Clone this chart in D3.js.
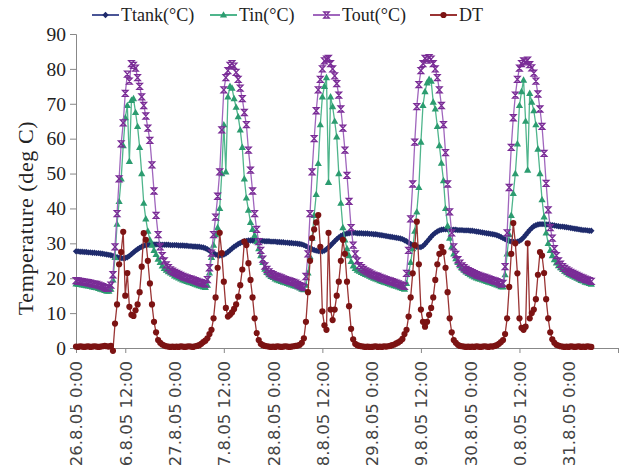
<!DOCTYPE html>
<html>
<head>
<meta charset="utf-8">
<script src="https://cdn.jsdelivr.net/npm/d3@7"></script>
<style>
  body { margin: 0; background: #fff; }
  svg { display: block; }
</style>
</head>
<body>
<div id="chart"></div>
<script>
// half-hourly readings, 26.8.05 0:00 -> 31.8.05 5:30 (one row = 6 hours)
const ttank = [
  27.7, 27.7, 27.6, 27.6, 27.5, 27.5, 27.4, 27.4, 27.3, 27.3, 27.2, 27.2,
  27.1, 27.0, 26.9, 26.8, 26.7, 26.6, 26.4, 26.2, 26.0, 25.9, 25.8, 25.7,
  25.8, 26.0, 26.4, 26.9, 27.4, 27.9, 28.3, 28.7, 29.0, 29.3, 29.5, 29.6,
  29.7, 29.7, 29.7, 29.7, 29.7, 29.6, 29.6, 29.6, 29.6, 29.6, 29.5, 29.5,
  29.5, 29.5, 29.4, 29.4, 29.4, 29.3, 29.3, 29.2, 29.2, 29.1, 29.1, 29.0,
  29.0, 28.9, 28.8, 28.6, 28.3, 27.9, 27.5, 27.1, 26.8, 26.6, 26.5, 26.6,
  26.8, 27.1, 27.5, 28.0, 28.5, 29.0, 29.4, 29.8, 30.1, 30.4, 30.6, 30.7,
  30.8, 30.8, 30.8, 30.8, 30.7, 30.7, 30.7, 30.7, 30.6, 30.6, 30.6, 30.5,
  30.5, 30.5, 30.4, 30.4, 30.3, 30.3, 30.2, 30.2, 30.1, 30.1, 30.0, 30.0,
  29.9, 29.8, 29.7, 29.5, 29.2, 28.9, 28.6, 28.3, 28.1, 27.9, 27.8, 27.7,
  27.7, 27.9, 28.3, 28.8, 29.4, 30.0, 30.6, 31.2, 31.7, 32.1, 32.4, 32.6,
  32.8, 32.9, 33.0, 33.0, 33.0, 32.9, 32.9, 32.9, 32.8, 32.8, 32.8, 32.7,
  32.7, 32.6, 32.6, 32.5, 32.4, 32.3, 32.2, 32.1, 32.0, 31.9, 31.8, 31.7,
  31.6, 31.5, 31.4, 31.2, 30.9, 30.6, 30.2, 29.8, 29.5, 29.2, 29.0, 28.9,
  28.9, 29.2, 29.8, 30.5, 31.2, 31.9, 32.5, 33.0, 33.4, 33.7, 33.9, 34.0,
  34.0, 34.0, 34.0, 33.9, 33.9, 33.9, 33.8, 33.8, 33.8, 33.7, 33.7, 33.7,
  33.6, 33.6, 33.5, 33.4, 33.3, 33.2, 33.1, 33.0, 32.9, 32.8, 32.7, 32.6,
  32.5, 32.3, 32.1, 31.8, 31.5, 31.2, 30.9, 30.7, 30.5, 30.4, 30.4, 30.5,
  30.7, 31.1, 31.7, 32.4, 33.1, 33.8, 34.4, 34.9, 35.2, 35.4, 35.5, 35.5,
  35.5, 35.4, 35.4, 35.3, 35.2, 35.1, 35.0, 34.9, 34.8, 34.8, 34.7, 34.6,
  34.5, 34.4, 34.3, 34.2, 34.1, 34.0, 33.9, 33.8, 33.8, 33.7, 33.6, 33.6
];

const tin = [
  18.4, 18.3, 18.2, 18.1, 18.0, 17.9, 17.8, 17.7, 17.5, 17.4, 17.3, 17.1,
  16.9, 16.7, 16.5, 16.3, 16.3, 16.9, 19.5, 26.0, 35.5, 42.0, 48.5, 58.0,
  66.0, 69.5, 53.5, 71.0, 71.5, 67.5, 63.5, 57.5, 50.0, 41.5, 37.0, 33.5,
  31.0, 29.5, 28.0, 26.8, 25.5, 24.5, 23.5, 22.8, 22.3, 21.9, 21.5, 21.2,
  20.7, 20.4, 20.1, 19.8, 19.5, 19.3, 19.1, 18.9, 18.7, 18.5, 18.3, 18.1,
  17.9, 17.7, 17.5, 17.4, 18.0, 21.5, 26.0, 29.5, 32.5, 34.5, 40.0, 50.0,
  64.0, 50.5, 72.0, 75.0, 74.5, 71.5, 69.0, 66.3, 62.5, 57.5, 48.5, 43.0,
  39.5, 36.0, 34.0, 32.3, 30.5, 28.5, 26.5, 24.5, 22.6, 21.7, 21.0, 20.5,
  20.2, 19.8, 19.5, 19.3, 19.1, 18.9, 18.7, 18.5, 18.3, 18.1, 17.9, 17.7,
  17.5, 17.2, 16.9, 16.7, 18.0, 21.5, 26.2, 31.5, 38.0, 44.0, 52.9, 64.0,
  72.0, 75.0, 77.5, 47.5, 72.0, 69.2, 65.0, 60.5, 50.0, 41.5, 34.5, 31.0,
  28.5, 26.5, 24.8, 23.5, 22.8, 22.3, 22.0, 21.7, 21.4, 21.1, 20.9, 20.6,
  20.3, 20.0, 19.8, 19.6, 19.3, 19.1, 18.9, 18.7, 18.5, 18.3, 18.1, 17.9,
  17.7, 17.5, 17.3, 17.1, 16.9, 18.5, 21.5, 24.5, 28.5, 33.5, 39.0, 46.0,
  59.0, 69.5, 73.5, 76.0, 77.0, 76.5, 70.5, 68.5, 63.5, 58.0, 53.0, 48.0,
  40.0, 35.0, 31.5, 29.0, 27.0, 25.6, 24.5, 23.6, 22.9, 22.3, 21.8, 21.4,
  21.0, 20.7, 20.4, 20.1, 19.9, 19.7, 19.5, 19.3, 19.1, 18.9, 18.7, 18.5,
  18.3, 18.1, 17.9, 17.6, 17.5, 21.0, 27.0, 32.5, 38.0, 44.3, 50.0, 58.5,
  69.5, 73.5, 76.8, 65.0, 51.0, 73.0, 70.5, 68.0, 64.0, 57.0, 50.0, 42.5,
  37.6, 33.0, 30.0, 28.0, 26.5, 25.3, 24.4, 23.6, 23.0, 22.5, 22.0, 21.6,
  21.2, 20.9, 20.6, 20.3, 20.0, 19.7, 19.4, 19.2, 18.9, 18.7, 18.5, 18.3
];

const tout = [
  19.3, 19.2, 19.1, 19.0, 18.9, 18.8, 18.7, 18.6, 18.4, 18.3, 18.2, 18.0,
  17.8, 17.6, 17.3, 17.1, 17.2, 18.0, 21.0, 29.0, 38.5, 48.5, 58.5, 64.5,
  73.0, 78.5, 76.5, 81.5, 81.0, 80.2, 77.5, 75.0, 72.0, 69.5, 66.5, 63.0,
  59.5, 52.5, 45.0, 38.0, 32.5, 29.0, 26.5, 25.0, 23.8, 23.0, 22.4, 22.0,
  21.7, 21.4, 21.1, 20.8, 20.5, 20.3, 20.1, 19.9, 19.7, 19.5, 19.3, 19.1,
  18.9, 18.7, 18.5, 18.3, 19.6, 23.0, 27.2, 32.5, 37.5, 43.5, 50.5, 62.5,
  74.0, 77.5, 79.5, 81.0, 81.5, 80.8, 79.0, 77.0, 74.5, 71.5, 67.5, 64.0,
  56.7, 51.0, 45.0, 38.5, 34.0, 30.5, 28.0, 25.5, 23.5, 22.5, 21.8, 21.3,
  21.0, 20.7, 20.5, 20.3, 20.1, 19.8, 19.6, 19.4, 19.2, 19.0, 18.8, 18.6,
  18.2, 17.9, 17.6, 17.3, 20.5, 27.0, 38.5, 50.5, 60.0, 68.0, 74.0, 77.0,
  80.0, 82.3, 82.8, 83.0, 81.5, 80.0, 78.0, 75.8, 72.5, 68.5, 63.0, 56.7,
  49.5, 42.0, 34.5, 29.5, 27.0, 25.0, 23.6, 23.0, 22.5, 22.1, 21.8, 21.5,
  21.2, 20.9, 20.7, 20.5, 20.2, 20.0, 19.8, 19.6, 19.4, 19.2, 19.0, 18.8,
  18.6, 18.4, 18.1, 17.9, 17.7, 21.4, 28.0, 37.0, 47.0, 59.0, 69.2, 75.5,
  79.5, 81.5, 83.0, 82.5, 83.2, 82.8, 81.5, 80.0, 77.5, 74.0, 69.5, 64.0,
  56.0, 47.0, 39.0, 33.0, 29.0, 26.8, 25.3, 24.3, 23.5, 23.0, 22.5, 22.2,
  21.9, 21.6, 21.3, 21.0, 20.8, 20.6, 20.4, 20.2, 20.0, 19.8, 19.6, 19.4,
  19.2, 19.0, 18.7, 18.3, 18.5, 23.3, 33.0, 46.0, 57.5, 66.0, 72.5, 77.0,
  80.2, 81.5, 82.3, 82.0, 82.5, 81.2, 80.3, 78.8, 76.5, 72.8, 68.5, 63.5,
  55.8, 47.2, 39.6, 34.5, 31.5, 28.5, 26.5, 25.0, 24.0, 23.3, 22.8, 22.4,
  22.0, 21.7, 21.4, 21.1, 20.8, 20.5, 20.2, 20.0, 19.7, 19.5, 19.3, 19.1
];

const dt = [
  0.4, 0.3, 0.5, 0.4, 0.3, 0.4, 0.5, 0.3, 0.4, 0.5, 0.4, 0.3,
  0.4, 0.5, 0.6, 0.5, 0.4, 0.6, -0.8, 7.0, 12.5, 24.0, 27.5, 33.3,
  15.0, 21.5, 11.8, 9.5, 9.2, 10.8, 12.5, 16.0, 23.3, 32.9, 31.0, 25.0,
  18.5, 12.5, 7.5, 4.5, 2.3, 1.5, 1.0, 0.7, 0.5, 0.4, 0.3, 0.4,
  0.3, 0.4, 0.3, 0.5, 0.4, 0.3, 0.4, 0.5, 0.4, 0.3, 0.5, 0.6,
  0.8, 1.2, 1.7, 2.1, 2.8, 4.0, 5.2, 8.5, 14.5, 23.0, 33.0, 27.2,
  19.0, 11.5, 9.0, 9.5, 10.2, 11.2, 12.5, 14.7, 18.0, 22.5, 30.5, 29.5,
  24.3, 19.5, 14.5, 8.5, 4.3, 2.3, 1.2, 0.8, 0.6, 0.5, 0.4, 0.3,
  0.4, 0.3, 0.5, 0.4, 0.3, 0.4, 0.5, 0.4, 0.3, 0.4, 0.5, 0.6,
  0.7, 0.9, 1.5, 2.8, 7.5, 16.0, 25.0, 31.5, 34.0, 36.0, 38.1, 29.0,
  10.5, 6.5, 5.2, 33.0, 11.0, 8.0, 11.0, 15.0, 19.0, 25.0, 31.0, 27.0,
  19.0, 12.0, 5.5, 2.5, 1.2, 0.8, 0.6, 0.5, 0.4, 0.3, 0.4, 0.3,
  0.3, 0.4, 0.5, 0.3, 0.4, 0.3, 0.5, 0.4, 0.5, 0.6, 0.8, 1.0,
  1.3, 1.6, 2.0, 2.6, 4.0, 5.2, 9.0, 14.5, 21.4, 29.5, 36.2, 24.0,
  11.0, 7.5, 6.1, 7.5, 9.5, 11.5, 14.5, 19.5, 24.0, 27.0, 29.0, 27.5,
  23.0, 16.0, 8.5, 4.5, 2.3, 1.5, 0.9, 0.6, 0.5, 0.4, 0.3, 0.4,
  0.3, 0.4, 0.3, 0.5, 0.4, 0.3, 0.4, 0.5, 0.4, 0.3, 0.5, 0.4,
  0.6, 0.8, 1.2, 1.7, 2.3, 4.0, 8.5, 17.5, 27.0, 35.8, 30.0, 21.4,
  8.5, 5.8, 5.2, 6.1, 30.0, 8.5, 10.0, 11.0, 14.0, 21.0, 27.5, 26.5,
  21.5, 14.0, 8.5, 4.5, 2.5, 1.5, 0.9, 0.7, 0.5, 0.4, 0.3, 0.4,
  0.3, 0.5, 0.4, 0.3, 0.4, 0.5, 0.3, 0.4, 0.3, 0.5, 0.4, 0.3
];

const timeLabels = [
  "26.8.05 0:00", "26.8.05 12:00", "27.8.05 0:00", "27.8.05 12:00",
  "28.8.05 0:00", "28.8.05 12:00", "29.8.05 0:00", "29.8.05 12:00",
  "30.8.05 0:00", "30.8.05 12:00", "31.8.05 0:00"
];
const yTicks = [0, 10, 20, 30, 40, 50, 60, 70, 80, 90];

const margin = { top: 34, right: 2, bottom: 117, left: 76 };
const width = 620 - margin.left - margin.right;
const height = 465 - margin.top - margin.bottom;

const hours = ttank.map((d, i) => i * 0.5);
const labelHours = timeLabels.map((d, i) => i * 12);

const svg = d3
  .select("#chart")
  .append("svg")
  .attr("width", 620)
  .attr("height", 465);

const g = svg
  .append("g")
  .attr("transform", `translate(${margin.left},${margin.top})`);

const xScale = d3.scaleLinear().domain([0, 132]).range([0, width]);
const yScale = d3.scaleLinear().domain([0, 90]).range([height, 0]);

// axes
const yAxis = d3.axisLeft(yScale).tickValues(yTicks).tickSize(6).tickPadding(4);
const yG = g.append("g").call(yAxis);
yG.select(".domain").attr("stroke", "#888");
yG.selectAll(".tick line").attr("stroke", "#888");
yG.selectAll("text")
  .attr("fill", "#222")
  .style("font-family", "'Liberation Serif', serif")
  .style("font-size", "19.5px");

const xG = g.append("g").attr("transform", `translate(0,${height})`);
xG.call(
  d3.axisBottom(xScale).tickValues([12, 36, 60, 84, 108, 132]).tickSize(5).tickFormat("")
);
xG.select(".domain").attr("stroke", "#888");
xG.selectAll(".tick line").attr("stroke", "#888");

const xLab = g.append("g").attr("transform", `translate(0,${height})`);
xLab.call(
  d3.axisBottom(xScale).tickValues(labelHours).tickSize(0).tickFormat((d, i) => timeLabels[i])
);
xLab.select(".domain").remove();
xLab.selectAll("text")
  .attr("transform", "rotate(-90)")
  .attr("x", -13)
  .attr("y", 0)
  .attr("dy", "0.36em")
  .style("text-anchor", "end")
  .attr("fill", "#444")
  .style("font-family", "'DejaVu Sans', sans-serif")
  .style("font-size", "16.5px");

// y title
svg.append("text")
  .attr("transform", "translate(25,218) rotate(-90)")
  .attr("text-anchor", "middle")
  .attr("dy", "0.35em")
  .attr("fill", "#222")
  .style("font-family", "'Liberation Serif', serif")
  .style("font-size", "22px")
  .style("letter-spacing", "0.6px")
  .text("Temperature (deg C)");

// markers
const markerPath = {
  diamond: "M0,-3.2L3.2,0L0,3.2L-3.2,0Z",
  triangle: "M0,-3.8L3.6,2.6L-3.6,2.6Z",
  hourglass: "M-2.8,-3H2.8L-2.8,3H2.8Z",
  circle: "M3.1,0A3.1,3.1 0 1,1 -3.1,0A3.1,3.1 0 1,1 3.1,0Z"
};

const series = [
  { name: "Ttank(°C)", values: ttank, line: "#4a5596", mark: "#1f2b6c", shape: "diamond", stroke: false },
  { name: "Tin(°C)", values: tin, line: "#4fb58c", mark: "#2c9c70", shape: "triangle", stroke: false },
  { name: "Tout(°C)", values: tout, line: "#a066bd", mark: "#7a2c96", shape: "hourglass", stroke: true },
  { name: "DT", values: dt, line: "#9a3434", mark: "#7c1313", shape: "circle", stroke: false }
];

const line = d3
  .line()
  .x((d, i) => xScale(hours[i]))
  .y((d) => yScale(d));

function drawMarker(sel, s) {
  sel.attr("d", markerPath[s.shape]);
  if (s.stroke) {
    sel.attr("fill", "none").attr("stroke", s.mark).attr("stroke-width", 1.3);
  } else {
    sel.attr("fill", s.mark);
  }
}

series.forEach((s) => {
  const sg = g.append("g");
  sg.append("path")
    .datum(s.values)
    .attr("fill", "none")
    .attr("stroke", s.line)
    .attr("stroke-width", 1.3)
    .attr("d", line);
  sg.selectAll("path.pt")
    .data(s.values)
    .enter()
    .append("path")
    .attr("class", "pt")
    .attr("transform", (d, i) => `translate(${xScale(hours[i])},${yScale(d)})`)
    .call(drawMarker, s);
});

// legend
const legendX = [92, 210, 313, 430];
const legend = svg.append("g").attr("transform", "translate(0,15)");
series.forEach((s, i) => {
  const lg = legend.append("g").attr("transform", `translate(${legendX[i]},0)`);
  lg.append("line")
    .attr("x1", 0).attr("x2", 27)
    .attr("stroke", s.line)
    .attr("stroke-width", 2);
  lg.append("path")
    .attr("transform", "translate(13.5,0)")
    .call(drawMarker, s);
  lg.append("text")
    .attr("x", 29)
    .attr("dy", "0.35em")
    .attr("fill", "#222")
    .style("font-family", "'Liberation Serif', serif")
    .style("font-size", "18px")
    .text(s.name);
});
</script>
</body>
</html>
